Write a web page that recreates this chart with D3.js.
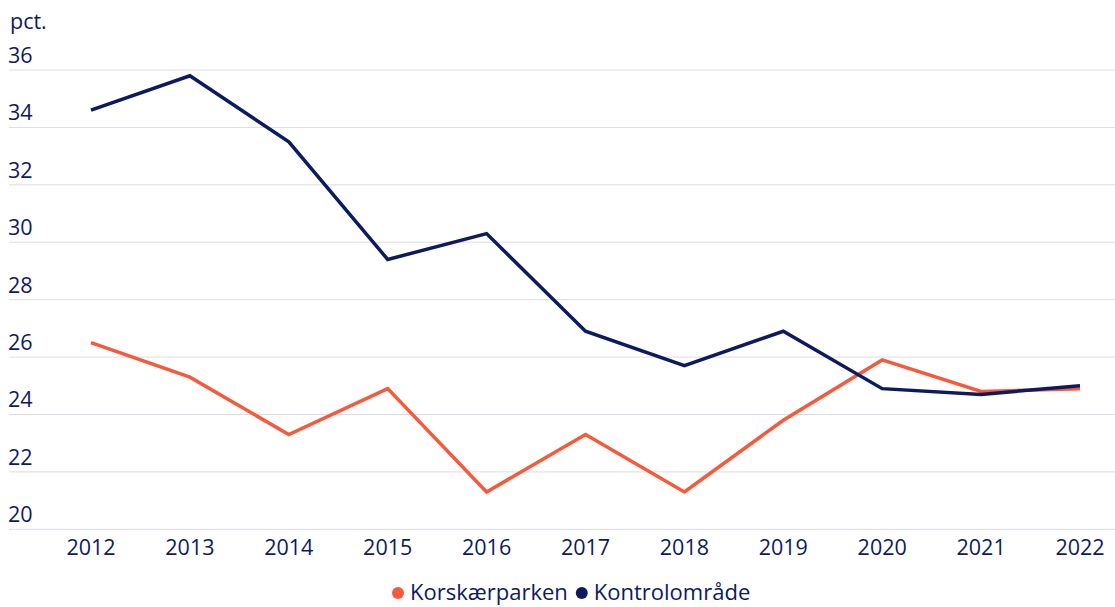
<!DOCTYPE html>
<html>
<head>
<meta charset="utf-8">
<script src="https://cdn.jsdelivr.net/npm/d3@7"></script>
<style>
  body { margin: 0; background: #fff; }
  text { font-family: "Open Sans", Lato, sans-serif; fill: #0e1a5e; }
</style>
</head>
<body>
<div id="chart"></div>
<script>
const WIDTH = 1115;
const HEIGHT = 607;

const years = [2012, 2013, 2014, 2015, 2016, 2017, 2018, 2019, 2020, 2021, 2022];
const korskaerparken = [26.5, 25.3, 23.3, 24.9, 21.3, 23.3, 21.3, 23.8, 25.9, 24.8, 24.9];
const kontrolomraade = [34.6, 35.8, 33.5, 29.4, 30.3, 26.9, 25.7, 26.9, 24.9, 24.7, 25.0];
const yTicks = [20, 22, 24, 26, 28, 30, 32, 34, 36];

const series = [
  { name: "Korskærparken", values: korskaerparken, color: "#f55a3c" },
  { name: "Kontrolområde", values: kontrolomraade, color: "#0e1a5e" }
];

const GRID = "#dcdce8";
const FONT_SIZE = "21.5px";

const svg = d3.select("#chart").append("svg")
  .attr("width", WIDTH)
  .attr("height", HEIGHT);

const xScale = d3.scalePoint().domain(years).range([91, 1080]);
const yScale = d3.scaleLinear().domain([20, 36]).range([529.3, 70]);

// gridlines + y labels (labels sit above their line)
const yg = svg.append("g");
yg.selectAll("line").data(yTicks).join("line")
  .attr("x1", 9).attr("x2", WIDTH)
  .attr("y1", d => yScale(d)).attr("y2", d => yScale(d))
  .attr("stroke", GRID).attr("stroke-width", 1);
yg.selectAll("text").data(yTicks).join("text")
  .attr("x", 8).attr("y", d => yScale(d) - 7)
  .style("font-size", FONT_SIZE)
  .text(d => d);

svg.append("text")
  .attr("x", 10).attr("y", 29)
  .style("font-size", FONT_SIZE)
  .text("pct.");

// x axis labels
svg.append("g").selectAll("text").data(years).join("text")
  .attr("x", d => xScale(d)).attr("y", 555)
  .attr("text-anchor", "middle")
  .style("font-size", FONT_SIZE)
  .text(d => d);

// lines
const line = d3.line()
  .x((d, i) => xScale(years[i]))
  .y(d => yScale(d));

svg.append("g").selectAll("path").data(series).join("path")
  .attr("d", d => line(d.values))
  .attr("fill", "none")
  .attr("stroke", d => d.color)
  .attr("stroke-width", 3.5)
  .attr("stroke-linejoin", "miter");

// legend, laid out left to right from the first dot
const legend = svg.append("g");
let lx = 398;
series.forEach(s => {
  legend.append("circle")
    .attr("cx", lx).attr("cy", 593).attr("r", 6)
    .attr("fill", s.color);
  const t = legend.append("text")
    .attr("x", lx + 12).attr("y", 600)
    .style("font-size", "22px")
    .text(s.name);
  lx += 12 + t.node().getComputedTextLength() + 14;
});
</script>
</body>
</html>
